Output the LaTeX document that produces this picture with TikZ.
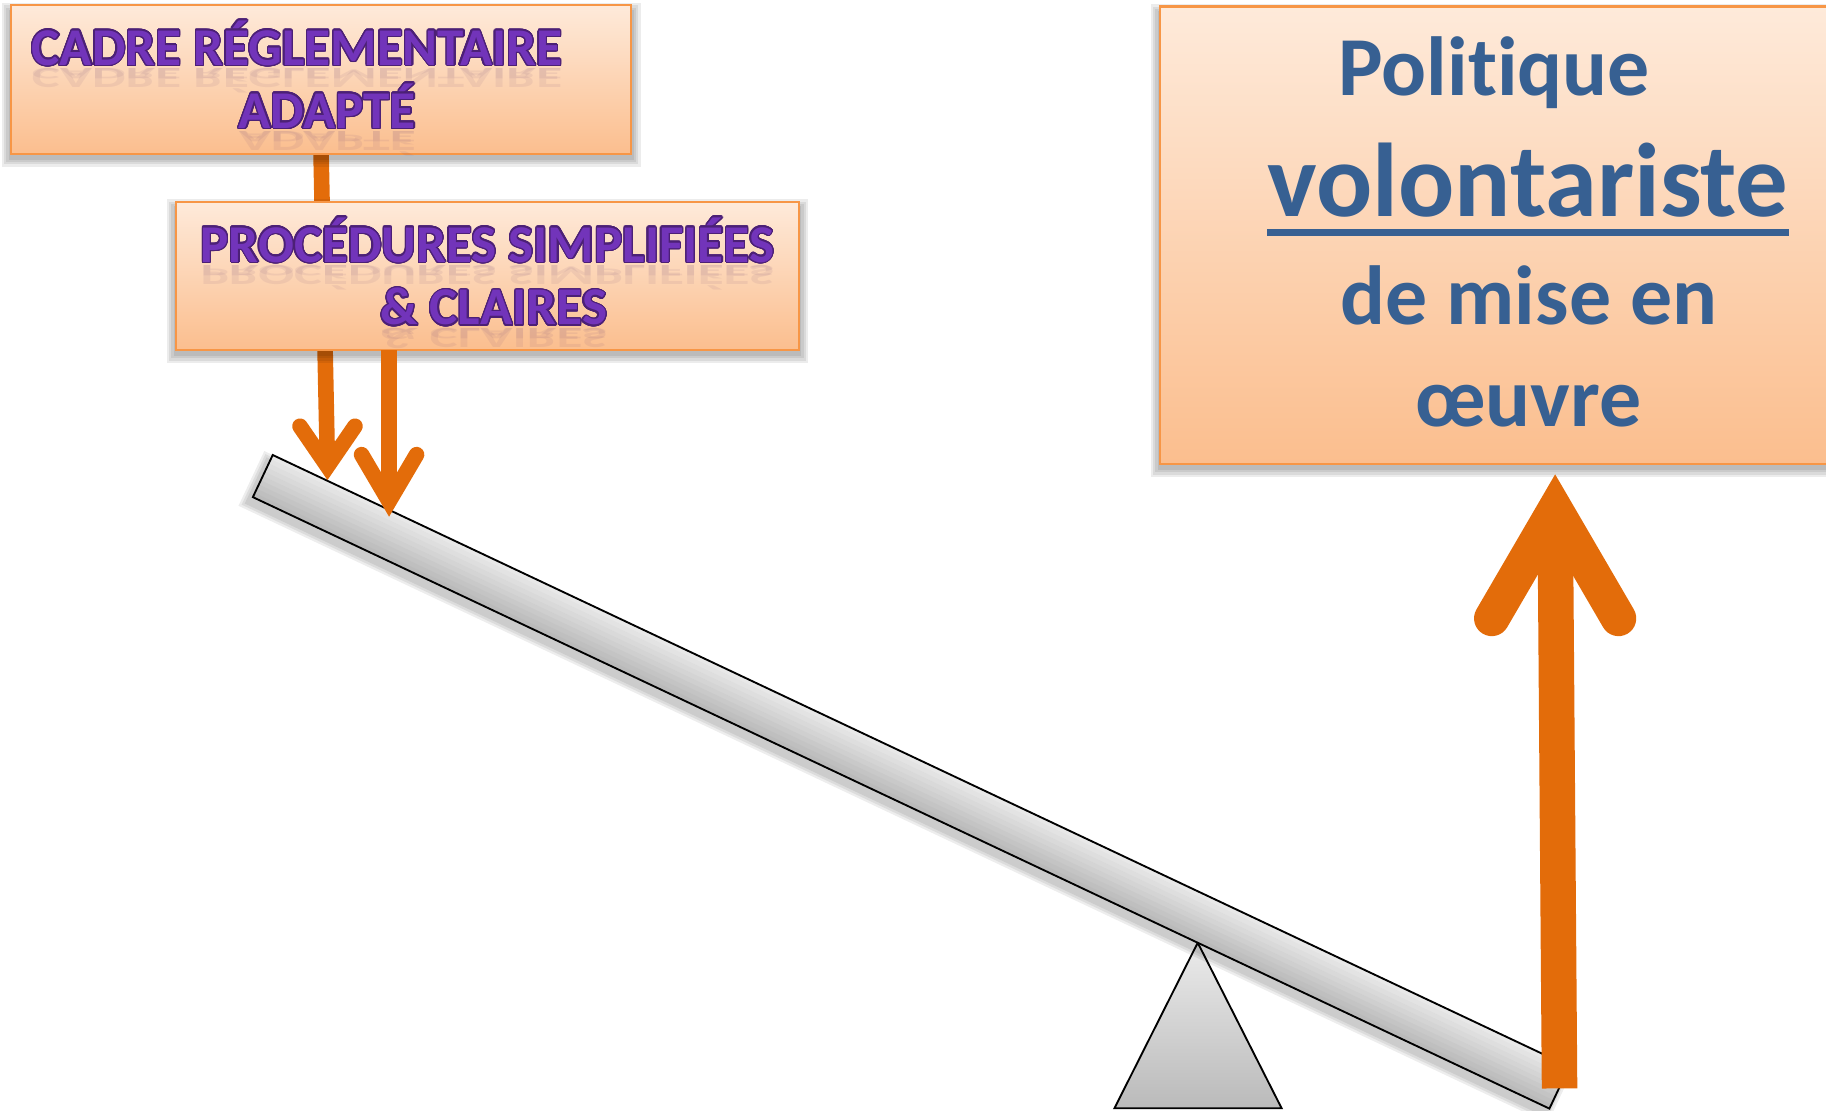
\documentclass[tikz,border=0pt]{standalone}
\usepackage{fontspec}
\usepackage{graphicx}
\usepackage{contour}
\setmainfont{Carlito}[Ligatures={NoCommon}]
\usetikzlibrary{calc}
\definecolor{boxtop}{RGB}{254,234,218}
\definecolor{boxbot}{RGB}{251,190,142}
\definecolor{boxline}{RGB}{247,150,70}
\definecolor{arrorange}{RGB}{227,108,10}
\definecolor{purp}{RGB}{114,52,186}
\definecolor{purpdark}{RGB}{76,32,118}
\definecolor{reflcol}{RGB}{110,70,120}
\definecolor{navy}{RGB}{55,96,146}
\contourlength{0.55pt}
\contournumber{24}
\newcommand{\ptxt}[1]{\contour{purpdark}{\textcolor{purp}{#1}}}
\newcommand{\rtxt}[2]{\scalebox{1}[-#1]{#2}}
\pgfdeclarelayer{bg}
\pgfdeclarelayer{shad}
\pgfsetlayers{bg,shad,main}
\tikzset{
  box/.style={draw=boxline, line width=1pt, top color=boxtop, bottom color=boxbot, inner sep=0pt, outer sep=0pt},
  purptxt/.style={font=\fontsize{22.8pt}{27pt}\selectfont\bfseries, inner sep=0pt, anchor=base},
  purprefl/.style={purptxt, text=reflcol, opacity=0.09},
  bluetxt/.style={font=\fontsize{36pt}{43pt}\selectfont\bfseries, text=navy, inner sep=0pt, anchor=base},
  shaft/.style={draw=arrorange, line width=#1, line cap=butt},
  arrhead/.style={draw=arrorange, line width=#1, line cap=round, line join=miter},
  beamline/.style={draw=black, line width=0.8pt, line join=miter},
}
\begin{document}
\begin{tikzpicture}[x=0.5pt, y=-0.5pt]
\useasboundingbox (0,0) rectangle (1568,954);

% boxes
\node[box, minimum width=266.3pt, minimum height=63.85pt] (b1) at (275.7,68.4) {};
\node[box, minimum width=267.5pt, minimum height=63.7pt] (b2) at (418.5,236.9) {};
\node[box, minimum width=288pt, minimum height=196.45pt] (b3) at (1284,202.05) {};

% faint reflections of the purple texts
\node[purprefl] (r1a) at (255,59) {\rtxt{0.55}{CADRE RÉGLEMENTAIRE}};
\node[purprefl] (s1a) at (255,59) {\rtxt{0.3}{CADRE RÉGLEMENTAIRE}};
\node[purprefl] (r1b) at (281,113) {\rtxt{0.55}{ADAPTÉ}};
\node[purprefl] (s1b) at (281,113) {\rtxt{0.3}{ADAPTÉ}};
\node[purprefl] (r2a) at (418.5,228) {\rtxt{0.55}{PROCÉDURES SIMPLIFIÉES}};
\node[purprefl] (s2a) at (418.5,228) {\rtxt{0.3}{PROCÉDURES SIMPLIFIÉES}};
\node[purprefl] (r2b) at (424,282) {\rtxt{0.55}{\& CLAIRES}};
\node[purprefl] (s2b) at (424,282) {\rtxt{0.3}{\& CLAIRES}};

% purple texts
\node[purptxt] (t1a) at (255,56) {\ptxt{CADRE RÉGLEMENTAIRE}};
\node[purptxt] (t1b) at (281,110) {\ptxt{ADAPTÉ}};
\node[purptxt] (t2a) at (418.5,225) {\ptxt{PROCÉDURES SIMPLIFIÉES}};
\node[purptxt] (t2b) at (424,279) {\ptxt{\& CLAIRES}};

% blue texts
\node[bluetxt] (t3a) at (1283,81.6) {Politique};
\node[bluetxt, font=\fontsize{45pt}{54pt}\selectfont\bfseries] (t3b) at (1312,186) {volontariste};
\draw[navy, line width=3pt] ([yshift=-7pt]t3b.base west) -- ([yshift=-7pt]t3b.base east);
\node[bluetxt] (t3c) at (1313,279) {de mise en};
\node[bluetxt] (t3d) at (1312.5,366) {œuvre};

% arrow 2 (from box 2)
\coordinate (v2) at (334.1,430.5);
\coordinate (h2l) at (310.5,390.4);
\coordinate (h2r) at (357.7,390.4);
\draw[shaft=6.7pt] (v2 |- b2.south) -- (v2);
\draw[arrhead=6.7pt] (h2l) -- (v2) -- (h2r);

% big arrow
\coordinate (bb) at (1339.2,934.6);
\coordinate (bv) at (1335.4,437.6);
\coordinate (bhl) at (1281,531);
\coordinate (bhr) at (1389.8,531);
\draw[shaft=15.25pt] (bb) -- (bv);
\draw[arrhead=15.25pt] (bhl) -- (bv) -- (bhr);

% box shadows
\begin{pgfonlayer}{shad}
\foreach \n in {b1,b2,b3}{
  \foreach \e/\t/\b in {1/-2/-2.5, 2/-1/-3.5, 3/0/-4.5, 4/1/-5.5}{
    \fill[black, opacity=0.075] ([xshift=-\e pt, yshift=\t pt]\n.north west) rectangle ([xshift=\e pt, yshift=\b pt]\n.south east);
  }
}
\end{pgfonlayer}

% seesaw, arrow 1
\begin{pgfonlayer}{bg}
\shade[top color=black!8, bottom color=black!27, draw=black, line width=0.8pt, line join=miter]
  (957,951.6) -- (1028.5,809.5) -- (1100.5,951.6) -- cycle;
\begin{scope}[shift={(234.2,390.7)}, rotate=-25.25]
  \foreach \e in {2,4,6}{
    \fill[black, opacity=0.07] (-2-\e,6-\e) rectangle (1229+\e,46+\e);
  }
  \foreach \i in {0,...,9}{
    \pgfmathsetmacro\pp{9+2*\i}
    \fill[black!\pp] (0,4*\i) rectangle (1231,4*\i+4.3);
  }
  \draw[beamline] (0,0) rectangle (1231,40);
\end{scope}
\coordinate (v1) at (281.2,400.4);
\coordinate (h1l) at (257.6,366);
\coordinate (h1r) at (304.8,366);
\draw[shaft=6.7pt] (b1.south) -- (v1);
\draw[arrhead=6.7pt] (h1l) -- (v1) -- (h1r);
\end{pgfonlayer}
\end{tikzpicture}
\end{document}
